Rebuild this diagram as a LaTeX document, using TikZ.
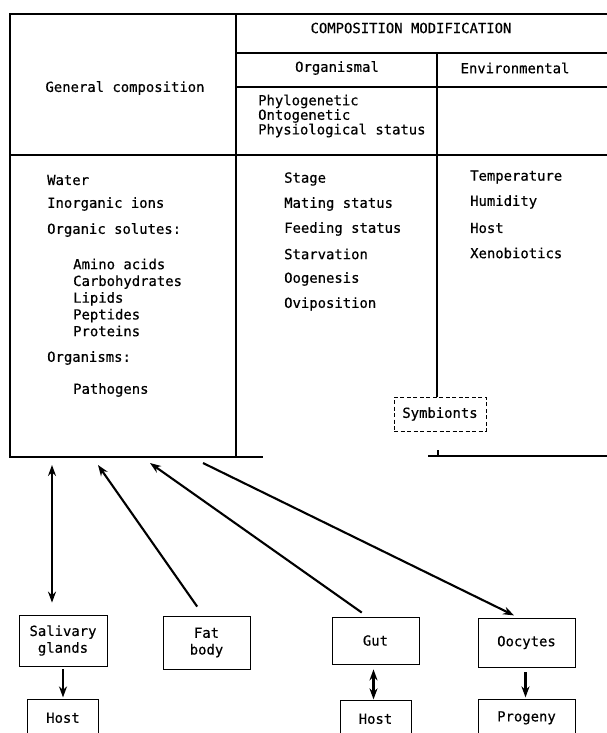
\documentclass[tikz,border=0pt]{standalone}
\usepackage{fontspec}
\newfontfamily\tablefont{DejaVu Sans Mono}[FakeBold=0.5]
\usetikzlibrary{arrows.meta, positioning}

\begin{document}
\begin{tikzpicture}[
    x=1pt, y=-1pt,
    every node/.style={font=\tablefont\fontsize{13.9}{16.75}\selectfont, inner sep=0pt},
    txt/.style={anchor=west, align=left},
    organ/.style={rectangle, draw, thick, minimum width=87pt, minimum height=51pt, align=center},
    sink/.style={rectangle, draw, thick, minimum width=71pt, minimum height=36pt, align=center},
    symb/.style={rectangle, draw, thick, dash pattern=on 4pt off 2.5pt, minimum width=92pt, minimum height=34pt},
    rule/.style={line width=1.1pt},
    arrow/.style={-{Stealth[length=11pt, width=8pt]}, line width=2.1pt},
    twoway/.style={{Stealth[length=11pt, width=8pt]}-{Stealth[length=11pt, width=8pt]}, line width=2.1pt}
]
    \useasboundingbox (0,0) rectangle (607,733);

    % Table frame
    \draw[rule] (9,14) -- (607,14);
    \draw[rule] (10,14) -- (10,457) -- (263,457);
    \draw[rule] (236,14) -- (236,457);
    \draw[rule] (236,53) -- (607,53);
    \draw[rule] (236,87) -- (607,87);
    \draw[rule] (10,155) -- (607,155);
    \draw[rule] (437,53) -- (437,397);
    \draw[rule] (428,456) -- (607,456) (438,450) -- (438,456);

    % Header cells
    \node (genhead) at (125,88) {General composition};
    \node (modhead) at (411,28) {COMPOSITION MODIFICATION};
    \node (orghead) at (337,68) {Organismal};
    \node (envhead) at (515,68) {Environmental};
    \node[txt, font=\tablefont\fontsize{13.9}{12.6}\selectfont] (orgtypes) at (258,116) {Phylogenetic\\Ontogenetic\\Physiological status};

    % General composition column
    \node[txt] (water) at (47,180) {Water};
    \node[txt] (ions) at (47,204) {Inorganic ions};
    \node[txt] (solutes) at (47,230) {Organic solutes:};
    \node[txt] (solutelist) at (73,297.5) {Amino acids\\Carbohydrates\\Lipids\\Peptides\\Proteins};
    \node[txt] (organisms) at (47,358) {Organisms:};
    \node[txt] (pathogens) at (73,390) {Pathogens};

    % Organismal column
    \node[txt] (stage) at (284,179) {Stage};
    \node[txt] (mating) at (284,204) {Mating status};
    \node[txt] (feeding) at (284,229) {Feeding status};
    \node[txt] (starve) at (284,254) {Starvation};
    \node[txt] (oogen) at (284,279) {Oogenesis};
    \node[txt] (ovipos) at (284,304) {Oviposition};

    % Environmental column
    \node[txt] (temp) at (470,177) {Temperature};
    \node[txt] (humid) at (470,202) {Humidity};
    \node[txt] (envhost) at (470,228) {Host};
    \node[txt] (xeno) at (470,253) {Xenobiotics};

    \node[symb] (symbionts) at (440,414) {Symbionts};

    % Tissues
    \node[organ, minimum width=88pt] (salivary) at (63,640.5) {Salivary\\glands};
    \node[organ, minimum height=53pt] (fatbody) at (206.5,642.5) {Fat\\body};
    \node[organ, minimum height=47pt] (gut) at (375.5,640.5) {Gut};
    \node[organ, minimum width=97pt, minimum height=49pt] (oocytes) at (526.5,642.5) {Oocytes};
    \node[sink, below=33pt of salivary] (host1) {Host};
    \node[sink, below=36pt of gut] (host2) {Host};
    \node[sink, minimum width=97pt, below=32pt of oocytes] (progeny) {Progeny};

    % Ends at the table
    \coordinate (in1) at (52,465);
    \coordinate (in2) at (98,465);
    \coordinate (in3) at (150,463);
    \coordinate (out4) at (203,463);

    % Exchange with the haemolymph
    \draw[twoway, shorten >=12pt] (in1) -- ([xshift=-11pt]salivary.north);
    \draw[arrow, shorten <=11pt] ([xshift=-3pt]fatbody.north) -- (in2);
    \draw[arrow, shorten <=7pt] ([xshift=-8pt]gut.north) -- (in3);
    \draw[arrow, shorten >=5pt] (out4) -- ([xshift=-8pt]oocytes.north);

    \draw[arrow, shorten <=3pt, shorten >=2pt] (salivary) -- (host1);
    \draw[twoway, shorten <=5pt, shorten >=1pt] ([xshift=-2pt]gut.south) -- ([xshift=-2pt]host2.north);
    \draw[arrow, shorten <=5pt, shorten >=2pt] ([xshift=-1pt]oocytes.south) -- ([xshift=-1pt]progeny.north);
\end{tikzpicture}
\end{document}
